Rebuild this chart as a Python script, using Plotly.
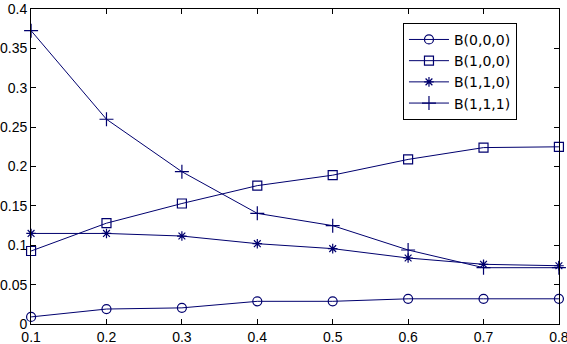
import plotly.graph_objects as go

x = [0.1, 0.2, 0.3, 0.4, 0.5, 0.6, 0.7, 0.8]
b000 = [0.009, 0.019, 0.0205, 0.0288, 0.0288, 0.032, 0.032, 0.032]
b100 = [0.0927, 0.128, 0.153, 0.1757, 0.189, 0.209, 0.224, 0.225]
b110 = [0.115, 0.115, 0.1117, 0.102, 0.0957, 0.0838, 0.0758, 0.074]
b111 = [0.3725, 0.26, 0.1934, 0.1405, 0.1249, 0.094, 0.0715, 0.0715]

x_labels = ["0.1", "0.2", "0.3", "0.4", "0.5", "0.6", "0.7", "0.8"]
y_ticks = [0, 0.05, 0.1, 0.15, 0.2, 0.25, 0.3, 0.35, 0.4]
y_labels = ["0", "0.05", "0.1", "0.15", "0.2", "0.25", "0.3", "0.35", "0.4"]

navy = "#00006e"

fig = go.Figure()
series = [
    ("B(0,0,0)", b000, "circle-open", 9),
    ("B(1,0,0)", b100, "square-open", 9),
    ("B(1,1,0)", b110, "asterisk-open", 8),
    ("B(1,1,1)", b111, "cross-thin-open", 10),
]
for name, y, sym, sz in series:
    fig.add_trace(go.Scatter(
        x=x, y=y, name=name, mode="lines+markers", cliponaxis=False,
        line=dict(color=navy, width=1),
        marker=dict(symbol=sym, size=sz, color=navy, line=dict(color=navy, width=1.2)),
    ))

axis_common = dict(
    showgrid=False, zeroline=False, showline=True, linecolor="black", linewidth=1,
    mirror="ticks", ticks="inside", ticklen=5, tickcolor="black", automargin=False,
    ticklabelstandoff=0, ticklabeloverflow="allow",
    tickfont=dict(family="Liberation Sans, Arial", size=14, color="black"),
)
fig.update_xaxes(range=[0.0999, 0.8001], tickvals=x, ticktext=x_labels, **axis_common)
fig.update_yaxes(range=[0, 0.4], tickvals=y_ticks, ticktext=y_labels, **axis_common)

fig.update_layout(
    width=567, height=344,
    margin=dict(l=31, r=8, t=9, b=20),
    plot_bgcolor="white", paper_bgcolor="white",
    legend=dict(
        x=0.7045, y=0.956, xanchor="left", yanchor="top",
        bgcolor="white", bordercolor="black", borderwidth=1,
        font=dict(family="DejaVu Sans", size=14, color="black"),
        tracegroupgap=0, itemwidth=40,
    ),
)

# page body has a default 8px margin; drop it so the figure fills the window
fig.write_html("out.html", config={"displayModeBar": False},
               post_script="document.body.style.margin='0';")
